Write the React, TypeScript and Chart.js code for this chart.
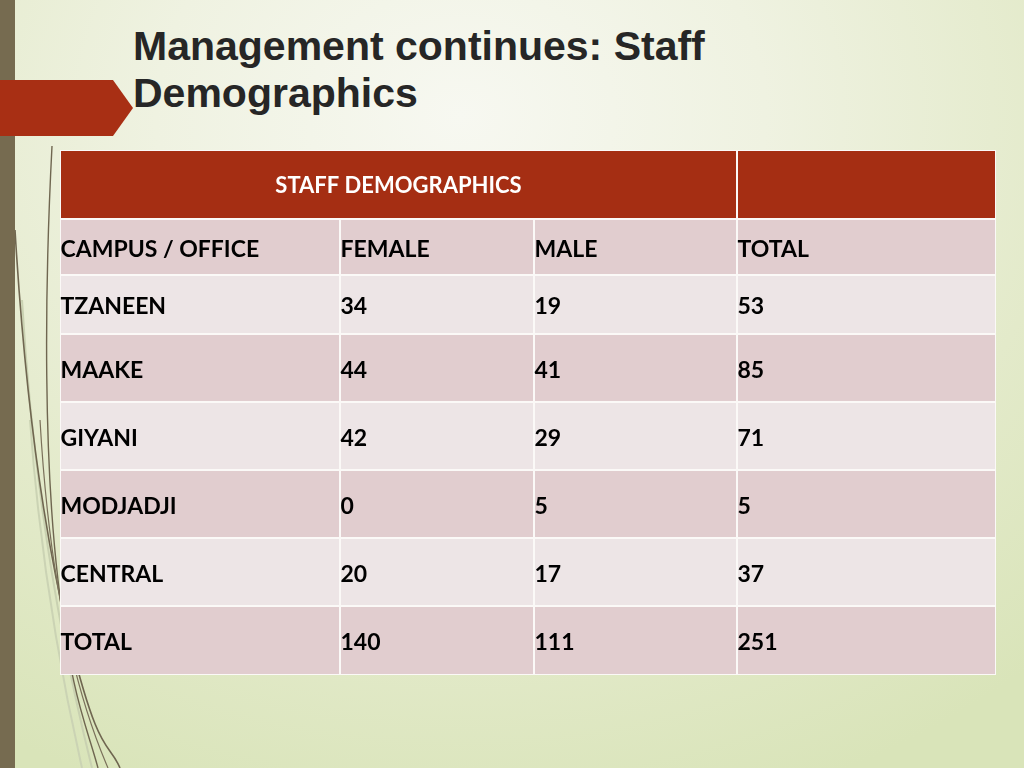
import React, { useEffect, useRef } from 'react';
import { Chart, registerables } from 'chart.js';

Chart.register(...registerables);

// ---- data ----
const TITLE_LINES = ['Management continues: Staff', 'Demographics'];
const TABLE_TITLE = 'STAFF DEMOGRAPHICS';
const COLUMN_HEADERS = ['CAMPUS / OFFICE', 'FEMALE', 'MALE', 'TOTAL'];
const CAMPUSES = ['TZANEEN', 'MAAKE', 'GIYANI', 'MODJADJI', 'CENTRAL', 'TOTAL'];
const FEMALE = [34, 44, 42, 0, 20, 140];
const MALE = [19, 41, 29, 5, 17, 111];
const TOTAL = [53, 85, 71, 5, 37, 251];

// ---- layout ----
const COL_WIDTHS = [280, 194, 203, 259];
const ROW_HEIGHTS = [69, 56, 59, 68, 68, 68, 68, 69];
const TABLE_LEFT = 60;
const TABLE_TOP = 150;
const PAD = 1;

const RED = '#A52E13';
const PINK = '#E1CDCF';
const LIGHT = '#EDE5E6';
const CELL_FONT = 'bold 23px Lato, "DejaVu Sans", sans-serif';
const HEAD_FONT = 'bold 22px Lato, "DejaVu Sans", sans-serif';

const cellTextPlugin = {
  id: 'cellText',
  afterDatasetsDraw(chart: any) {
    const ctx = chart.ctx;
    ctx.save();
    chart.data.datasets.forEach((ds: any, di: number) => {
      const meta = chart.getDatasetMeta(di);
      meta.data.forEach((el: any, j: number) => {
        const t = ds.cellTexts[j];
        if (!t) return;
        const { x, y, base } = el.getProps(['x', 'y', 'base'], true);
        const left = Math.min(x, base);
        const right = Math.max(x, base);
        ctx.fillStyle = ds.textColor;
        ctx.textBaseline = 'alphabetic';
        if (ds.cellAlign[j] === 'center') {
          ctx.font = HEAD_FONT;
          ctx.textAlign = 'center';
          ctx.fillText(t, (left + right) / 2, y + 8.5);
        } else {
          ctx.font = CELL_FONT;
          ctx.textAlign = 'left';
          ctx.fillText(t, left + 0.5, y + 9.5);
        }
      });
    });
    ctx.restore();
  },
};

export default function App() {
  const ref = useRef<HTMLCanvasElement>(null);
  const tableW = COL_WIDTHS.reduce((a, b) => a + b, 0);
  const tableH = ROW_HEIGHTS.reduce((a, b) => a + b, 0);

  useEffect(() => {
    if (!ref.current) return;
    const colEdges = [0];
    COL_WIDTHS.forEach((w) => colEdges.push(colEdges[colEdges.length - 1] + w));
    const rowEdges = [0];
    ROW_HEIGHTS.forEach((h) => rowEdges.push(rowEdges[rowEdges.length - 1] + h));

    type Row = { spans: [number, number][]; texts: string[]; align: string[]; color: string; textColor: string };
    const rows: Row[] = [];
    rows.push({
      spans: [[0, 3], [3, 4]],
      texts: [TABLE_TITLE, ''],
      align: ['center', 'left'],
      color: RED,
      textColor: '#FFFFFF',
    });
    rows.push({
      spans: [[0, 1], [1, 2], [2, 3], [3, 4]],
      texts: COLUMN_HEADERS,
      align: ['left', 'left', 'left', 'left'],
      color: PINK,
      textColor: '#000000',
    });
    CAMPUSES.forEach((c, i) => {
      rows.push({
        spans: [[0, 1], [1, 2], [2, 3], [3, 4]],
        texts: [c, String(FEMALE[i]), String(MALE[i]), String(TOTAL[i])],
        align: ['left', 'left', 'left', 'left'],
        color: i % 2 === 0 ? LIGHT : PINK,
        textColor: '#000000',
      });
    });

    const datasets = rows.map((r, i) => ({
      label: 'row' + i,
      data: r.spans.map(([a, b]) => ({
        x: [colEdges[a], colEdges[b]],
        y: (rowEdges[i] + rowEdges[i + 1]) / 2,
      })),
      backgroundColor: r.color,
      borderColor: '#FBF9F7',
      borderWidth: 1,
      borderSkipped: false,
      inflateAmount: 0,
      barThickness: ROW_HEIGHTS[i],
      grouped: false,
      cellTexts: r.texts,
      cellAlign: r.align,
      textColor: r.textColor,
    }));

    const chart = new Chart(ref.current, {
      type: 'bar',
      data: { datasets: datasets as any },
      options: {
        indexAxis: 'y',
        responsive: false,
        maintainAspectRatio: false,
        animation: false,
        devicePixelRatio: 1,
        events: [],
        layout: { padding: PAD },
        scales: {
          x: { type: 'linear', min: 0, max: tableW, display: false, offset: false },
          y: { type: 'linear', min: 0, max: tableH, reverse: true, display: false, offset: false },
        },
        plugins: { legend: { display: false }, tooltip: { enabled: false } },
      } as any,
      plugins: [cellTextPlugin],
    });
    return () => chart.destroy();
  }, []);

  return (
    <div
      style={{
        position: 'absolute',
        left: 0,
        top: 0,
        width: 1024,
        height: 768,
        overflow: 'hidden',
        background:
          'radial-gradient(ellipse 85% 95% at 45% 15%, #F7F8F1 0%, #EFF2E1 35%, #E3EACA 70%, #D9E4B9 100%)',
      }}
    >
      <svg width={200} height={768} style={{ position: 'absolute', left: 0, top: 0 }}>
        <path d="M 22 300 C 32 470, 55 620, 92 768" stroke="#C9D1B1" strokeWidth={2} fill="none" />
        <path d="M 30 420 C 40 560, 62 680, 82 768" stroke="#CBD3B4" strokeWidth={2} fill="none" />
        <path d="M 52 146 C 44 300, 44 460, 58 580 S 85 720, 98 768" stroke="#6F6650" strokeWidth={1.4} fill="none" />
        <path d="M 15 230 C 24 380, 40 520, 70 640 S 108 740, 120 768" stroke="#6F6650" strokeWidth={1.6} fill="none" />
        <path d="M 40 420 C 48 560, 70 680, 108 768" stroke="#7A705A" strokeWidth={1.2} fill="none" />
      </svg>
      <div style={{ position: 'absolute', left: 0, top: 0, width: 15, height: 768, background: '#766B50' }} />
      <svg width={140} height={60} style={{ position: 'absolute', left: 0, top: 79 }}>
        <polygon points="0,1 113,1 133,29 113,57 0,57" fill="#A82F14" />
      </svg>
      <div
        style={{
          position: 'absolute',
          left: 133,
          top: 23,
          font: 'bold 41px "Liberation Sans", Arial, sans-serif',
          lineHeight: '47px',
          color: '#262626',
          whiteSpace: 'nowrap',
        }}
      >
        {TITLE_LINES.map((l) => (
          <div key={l}>{l}</div>
        ))}
      </div>
      <canvas
        ref={ref}
        width={tableW + 2 * PAD}
        height={tableH + 2 * PAD}
        style={{
          position: 'absolute',
          left: TABLE_LEFT - PAD,
          top: TABLE_TOP - PAD,
          width: tableW + 2 * PAD,
          height: tableH + 2 * PAD,
        }}
      />
    </div>
  );
}
